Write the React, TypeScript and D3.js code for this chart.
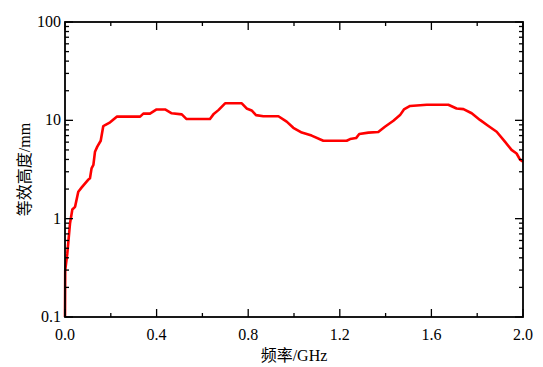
import * as d3 from 'd3';
import React from 'react';

// frequency (GHz) and equivalent height (mm)
const freq = [
  0, 0.001, 0.01, 0.022, 0.032, 0.044, 0.058, 0.073, 0.1, 0.109, 0.116, 0.124,
  0.131, 0.141, 0.156, 0.167, 0.175, 0.197, 0.226, 0.328, 0.342, 0.371, 0.4,
  0.437, 0.466, 0.51, 0.531, 0.633, 0.648, 0.67, 0.699, 0.772, 0.793, 0.815,
  0.834, 0.866, 0.932, 0.968, 0.997, 1.034, 1.077, 1.128, 1.23, 1.245, 1.271,
  1.285, 1.325, 1.368, 1.397, 1.434, 1.463, 1.48, 1.507, 1.58, 1.674, 1.71,
  1.74, 1.776, 1.812, 1.849, 1.885, 1.921, 1.95, 1.972, 1.987, 2.0,
];
const height = [
  0.1, 0.3, 0.44, 0.9, 1.24, 1.32, 1.88, 2.08, 2.47, 2.57, 3.25, 3.52, 4.8,
  5.4, 6.2, 8.7, 8.96, 9.55, 10.9, 10.9, 11.7, 11.7, 12.9, 12.9, 11.8, 11.5,
  10.3, 10.3, 11.5, 12.7, 14.9, 14.9, 13.2, 12.6, 11.3, 11.0, 11.0, 9.7, 8.4,
  7.5, 7.0, 6.2, 6.2, 6.45, 6.6, 7.27, 7.5, 7.6, 8.6, 9.9, 11.3, 12.9, 14.0,
  14.4, 14.4, 13.2, 13.0, 11.8, 10.1, 8.75, 7.65, 6.07, 5.0, 4.6, 3.98, 3.8,
];

const xTicks = [0, 0.4, 0.8, 1.2, 1.6, 2.0];
const xMinor = [0.2, 0.6, 1.0, 1.4, 1.8];
const yTicks = [0.1, 1, 10, 100];
const yTickLabels = ['0.1', '1', '10', '100'];

const W = 543;
const H = 367;
const left = 65;
const right = 523;
const top = 22;
const bottom = 317;
const font = '"Liberation Serif", "Noto Sans CJK SC", serif';

export default function App() {
  const x = d3.scaleLinear().domain([0, 2]).range([left, right]);
  const y = d3.scaleLog().domain([0.1, 100]).range([bottom, top]);

  const yMinor: number[] = [];
  [0.1, 1, 10].forEach(d => {
    for (let k = 2; k <= 9; k++) yMinor.push(d * k);
  });

  const lineGen = d3
    .line<number>()
    .x((d, i) => x(freq[i]))
    .y(d => y(d));

  return (
    <>
      <style>{'body{margin:0}'}</style>
      <svg width={W} height={H} style={{ display: 'block', background: '#fff' }}>
        <path
          d={lineGen(height) || ''}
          fill="none"
          stroke="#ff0000"
          strokeWidth={2.6}
          strokeLinejoin="round"
        />
        <g stroke="#000" strokeWidth={1.3}>
          {xTicks.map(t => (
            <g key={'xt' + t}>
              <line x1={x(t)} x2={x(t)} y1={bottom} y2={bottom - 8} />
              <line x1={x(t)} x2={x(t)} y1={top} y2={top + 8} />
            </g>
          ))}
          {xMinor.map(t => (
            <g key={'xm' + t}>
              <line x1={x(t)} x2={x(t)} y1={bottom} y2={bottom - 4} />
              <line x1={x(t)} x2={x(t)} y1={top} y2={top + 4} />
            </g>
          ))}
          {yTicks.map(t => (
            <g key={'yt' + t}>
              <line x1={left} x2={left + 8} y1={y(t)} y2={y(t)} />
              <line x1={right} x2={right - 8} y1={y(t)} y2={y(t)} />
            </g>
          ))}
          {yMinor.map(t => (
            <g key={'ym' + t}>
              <line x1={left} x2={left + 4} y1={y(t)} y2={y(t)} />
              <line x1={right} x2={right - 4} y1={y(t)} y2={y(t)} />
            </g>
          ))}
        </g>
        <rect
          x={left}
          y={top}
          width={right - left}
          height={bottom - top}
          fill="none"
          stroke="#000"
          strokeWidth={1.8}
        />
        <g fontFamily={font} fontSize={16} fill="#000">
          {xTicks.map(t => (
            <text key={'xl' + t} x={x(t)} y={bottom + 23} textAnchor="middle">
              {t.toFixed(1)}
            </text>
          ))}
          {yTicks.map((t, i) => (
            <text key={'yl' + t} x={left - 4} y={y(t) + 5} textAnchor="end">
              {yTickLabels[i]}
            </text>
          ))}
          <text x={(left + right) / 2} y={361} textAnchor="middle">
            频率/GHz
          </text>
          <text
            transform={`translate(30, ${(top + bottom) / 2}) rotate(-90)`}
            textAnchor="middle"
          >
            等效高度/mm
          </text>
        </g>
      </svg>
    </>
  );
}
